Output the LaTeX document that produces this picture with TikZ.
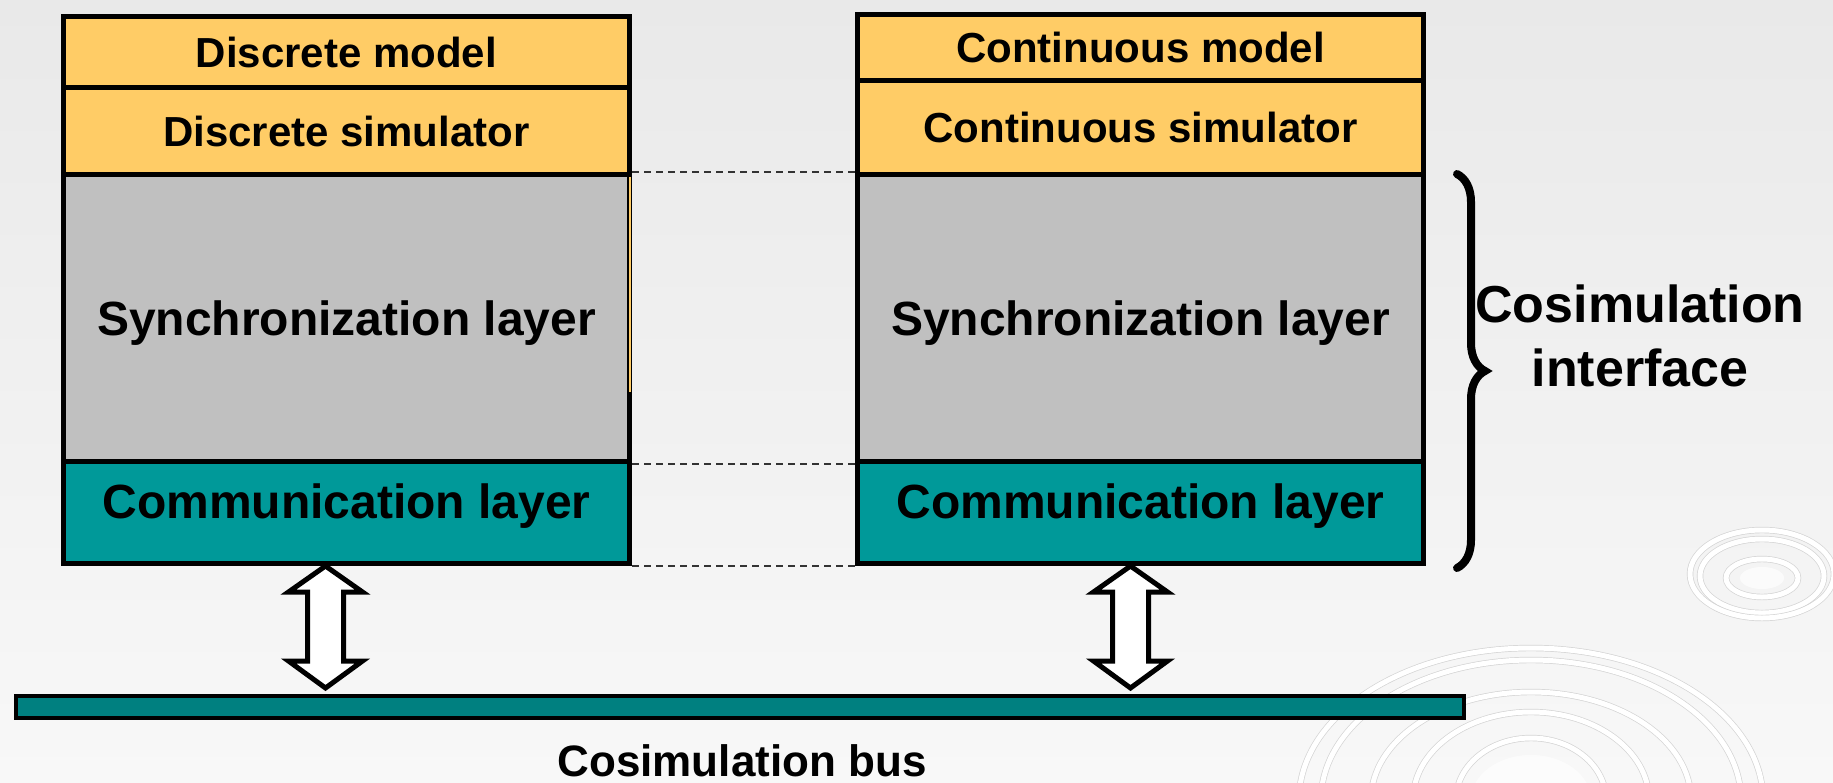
\documentclass[tikz,border=0pt]{standalone}
\usepackage{fontspec}
\setmainfont{Liberation Sans}
\usetikzlibrary{calc,decorations.pathreplacing}

\definecolor{simyellow}{HTML}{FFCC66}
\definecolor{laygray}{HTML}{C0C0C0}
\definecolor{commteal}{HTML}{009999}
\definecolor{busteal}{HTML}{008080}
\definecolor{bgtop}{HTML}{E9E9E9}
\definecolor{bgbot}{HTML}{F8F8F8}
\definecolor{ringedge}{HTML}{D4D4D4}

\newcommand{\fs}[1]{\bfseries\fontsize{#1}{#1}\selectfont}
% text whose baseline sits the given distance below the node centre
\newcommand{\basedown}[2]{\raisebox{-#1}[0pt][0pt]{#2}}

\tikzset{
  layer/.style={draw=black, line width=5pt, inner sep=0pt, anchor=north west,
    minimum width=566pt, font=\fs{48}},
  toplayer/.style={layer, fill=simyellow, font=\fs{42}},
  dashline/.style={draw=black!80, line width=1.5pt, dash pattern=on 7pt off 5pt},
  dblarrow/.style={draw=black, fill=white, line width=5pt, line join=miter},
  bracestyle/.style={draw=black, line width=8pt, line cap=round,
    decorate, decoration={brace, amplitude=28pt, aspect=0.5}},
  ring/.style={draw=ringedge, line width=0.7pt, double=white, double distance=5pt},
}

\begin{document}
\begin{tikzpicture}[x=1pt, y=-1pt]
  \useasboundingbox (0,0) rectangle (1833,782);
  \shade[top color=bgtop, bottom color=bgbot] (0,0) rectangle (1833,782);

  % ripple ornaments in the lower right corner
  \begin{scope}
    \clip (0,0) rectangle (1833,782);
    \fill[white, opacity=0.7] (1762,578) ellipse (22pt and 11pt);
    \draw[ring] (1762,578) ellipse (36pt and 19pt);
    \draw[ring] (1762,576) ellipse (62pt and 37pt);
    \draw[ring] (1762,574) ellipse (72pt and 44pt);
    \fill[white, opacity=0.6] (1531,800) ellipse (60pt and 45pt);
    \draw[ring] (1531,800) ellipse (75pt and 62pt);
    \draw[ring] (1531,800) ellipse (118pt and 88pt);
    \draw[ring] (1531,800) ellipse (160pt and 108pt);
    \draw[ring] (1531,800) ellipse (210pt and 140pt);
    \draw[ring] (1531,800) ellipse (232pt and 152pt);
  \end{scope}

  % discrete side
  \node[toplayer, minimum height=71pt] (dmodel) at (61,14) {Discrete model};
  \node[toplayer, minimum height=87pt] (dsim) at (61,85) {Discrete simulator};
  \node[layer, fill=laygray, minimum height=287pt] (dsync) at (61,172) {\basedown{17pt}{Synchronization layer}};
  \node[layer, fill=commteal, minimum height=102pt] (dcomm) at (61,459) {\basedown{6pt}{Communication layer}};
  \fill[simyellow] (629,177) rectangle (631,392);

  % continuous side
  \node[toplayer, minimum height=66pt] (cmodel) at (855,12) {Continuous model};
  \node[toplayer, minimum height=94pt] (csim) at (855,78) {Continuous simulator};
  \node[layer, fill=laygray, minimum height=287pt] (csync) at (855,172) {\basedown{17pt}{Synchronization layer}};
  \node[layer, fill=commteal, minimum height=102pt] (ccomm) at (855,459) {\basedown{6pt}{Communication layer}};

  % layer alignment guides
  \draw[dashline] (dsync.north east) -- (csync.north west);
  \draw[dashline] (dsync.south east) -- (csync.south west);
  \draw[dashline] (dcomm.south east) -- (ccomm.south west);

  % cosimulation bus
  \node[draw=black, line width=4pt, fill=busteal, inner sep=0pt, anchor=north west,
    minimum width=1448pt, minimum height=22pt] (bus) at (14,694) {};
  \node[anchor=base, font=\fs{44}] (buslabel) at (742,776) {Cosimulation bus};

  % bidirectional links between the communication layers and the bus
  \foreach \src/\nm/\dx in {dcomm/dl/-21, ccomm/cl/-10} {
    \coordinate (\nm top) at ($(\src.south)+(\dx,0)$);
    \coordinate (\nm bot) at ($(\src.south |- bus.north)+(\dx,-6)$);
    \draw[dblarrow] (\nm top) -- ++(37,26) -- ++(-19,0) -- ($(\nm bot)+(18,-27)$)
      -- ++(19,0) -- (\nm bot) -- ++(-37,-27) -- ++(19,0)
      -- ($(\nm top)+(-18,26)$) -- ++(-19,0) -- cycle;
  }

  % interface brace
  \draw[bracestyle] ($(csync.north east)+(31,2)$) -- ($(ccomm.south east)+(31,2)$);
  \node[align=center, font=\bfseries\fontsize{52}{64}\selectfont] (iflabel) at (1640,336)
    {Cosimulation\\interface};
\end{tikzpicture}
\end{document}
